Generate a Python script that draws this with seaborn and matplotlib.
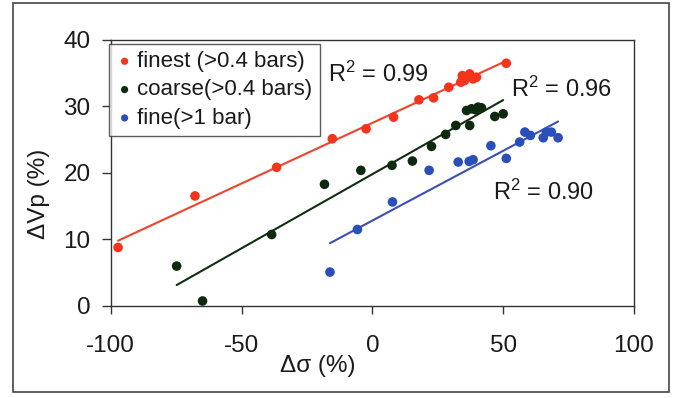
import matplotlib
matplotlib.use("Agg")
import matplotlib.pyplot as plt
import seaborn as sns
import numpy as np
import pandas as pd
from matplotlib.patches import Rectangle

# ---- data ----
finest_x = [-97.2, -67.8, -36.6, -15.3, -2.4, 8.1, 17.8, 23.4, 29.2,
            33.8, 34.4, 35.2, 36.0, 37.2, 38.5, 39.8, 51.2]
finest_y = [8.8, 16.55, 20.85, 25.15, 26.65, 28.4, 31.0, 31.3, 32.9,
            33.65, 34.65, 33.9, 34.4, 34.9, 34.15, 34.4, 36.5]

coarse_x = [-74.8, -64.9, -38.5, -18.3, -4.4, 7.5, 15.3, 22.6, 28.0, 31.9,
            37.2, 36.0, 37.9, 39.5, 40.4, 41.7, 46.8, 50.0]
coarse_y = [6.0, 0.75, 10.75, 18.3, 20.4, 21.15, 21.8, 24.0, 25.8, 27.15,
            27.15, 29.4, 29.65, 29.5, 29.9, 29.8, 28.5, 28.9]

fine_x = [-16.2, -5.7, 7.7, 21.7, 32.8, 37.0, 38.5, 45.3, 51.2, 56.3,
          58.3, 60.4, 65.3, 66.5, 68.4, 71.0]
fine_y = [5.1, 11.5, 15.65, 20.4, 21.65, 21.75, 22.0, 24.1, 22.2, 24.65,
          26.15, 25.65, 25.3, 26.15, 26.15, 25.3]

series_labels = ["finest (>0.4 bars)", "coarse(>0.4 bars)", "fine(>1 bar)"]
r2_labels = ["0.99", "0.96", "0.90"]
r2_pos = [(-16.8, 33.64), (52.9, 31.4), (46.2, 15.94)]

x_ticks = [-100, -50, 0, 50, 100]
y_ticks = [0, 10, 20, 30, 40]

point_colors = ["#f5341e", "#0e2a0e", "#2a4fb8"]
line_colors = ["#f0432c", "#102e10", "#3a4fb4"]

# ---- style ----
sns.set_style("white")
plt.rcParams["font.family"] = ["Liberation Sans", "DejaVu Sans"]
plt.rcParams["axes.unicode_minus"] = False
plt.rcParams["mathtext.fontset"] = "custom"
plt.rcParams["mathtext.rm"] = "Liberation Sans"
plt.rcParams["mathtext.it"] = "Liberation Sans"
plt.rcParams["mathtext.bf"] = "Liberation Sans:bold"

fig = plt.figure(figsize=(6.78, 3.98), dpi=100)
ax = fig.add_axes([0.1633, 0.2312, 0.9351 - 0.1633, 0.8995 - 0.2312])

datasets = [(finest_x, finest_y), (coarse_x, coarse_y), (fine_x, fine_y)]
for (xs, ys), lab, pc, lc in zip(datasets, series_labels, point_colors, line_colors):
    df = pd.DataFrame({"x": xs, "y": ys})
    sns.regplot(data=df, x="x", y="y", ax=ax, ci=None, truncate=True,
                label=lab,
                scatter_kws=dict(color=pc, s=48, edgecolor="none", alpha=1, zorder=3),
                line_kws=dict(color=lc, lw=1.5, zorder=2))

for txt, (tx, ty) in zip(r2_labels, r2_pos):
    ax.text(tx, ty, "R$^2$ = " + txt, fontsize=17, ha="left", va="baseline",
            color="#1a1a1a")

ax.set_xlim(-100, 100)
ax.set_ylim(0, 40)
ax.set_xticks(x_ticks)
ax.set_yticks(y_ticks)
ax.tick_params(axis="x", direction="out", length=6, width=1, pad=15,
               labelsize=17.5, colors="#333333", labelcolor="#1a1a1a")
ax.tick_params(axis="y", direction="out", length=6.5, width=1, pad=8,
               labelsize=17.5, colors="#333333", labelcolor="#1a1a1a")
ax.tick_params(bottom=True, left=True)

for sp in ax.spines.values():
    sp.set_visible(True)
    sp.set_color("#333333")
    sp.set_linewidth(1.0)

ax.set_xlabel("Δσ (%)", fontsize=17.5, color="#1a1a1a")
ax.set_ylabel("ΔVp (%)", fontsize=17.5, color="#1a1a1a")
ax.xaxis.set_label_coords(0.395, -0.184)
ax.yaxis.set_label_coords(-0.116, 0.421)

leg = ax.legend(loc="upper left", bbox_to_anchor=(-0.003, 0.985),
                borderaxespad=0, fontsize=16, frameon=True, fancybox=False,
                markerscale=0.75, scatterpoints=1, handlelength=0.75,
                handletextpad=0.2, borderpad=0.32, labelspacing=0.33)
leg.get_frame().set_edgecolor("#333333")
leg.get_frame().set_linewidth(1.0)
for t in leg.get_texts():
    t.set_color("#1a1a1a")

# outer figure frame
fig.patches.append(Rectangle((13 / 678, 1 - 392 / 398), (669 - 13) / 678,
                             (392 - 3) / 398, transform=fig.transFigure,
                             fill=False, edgecolor="#444444", lw=1.2))

fig.savefig("out.png", dpi=100)
